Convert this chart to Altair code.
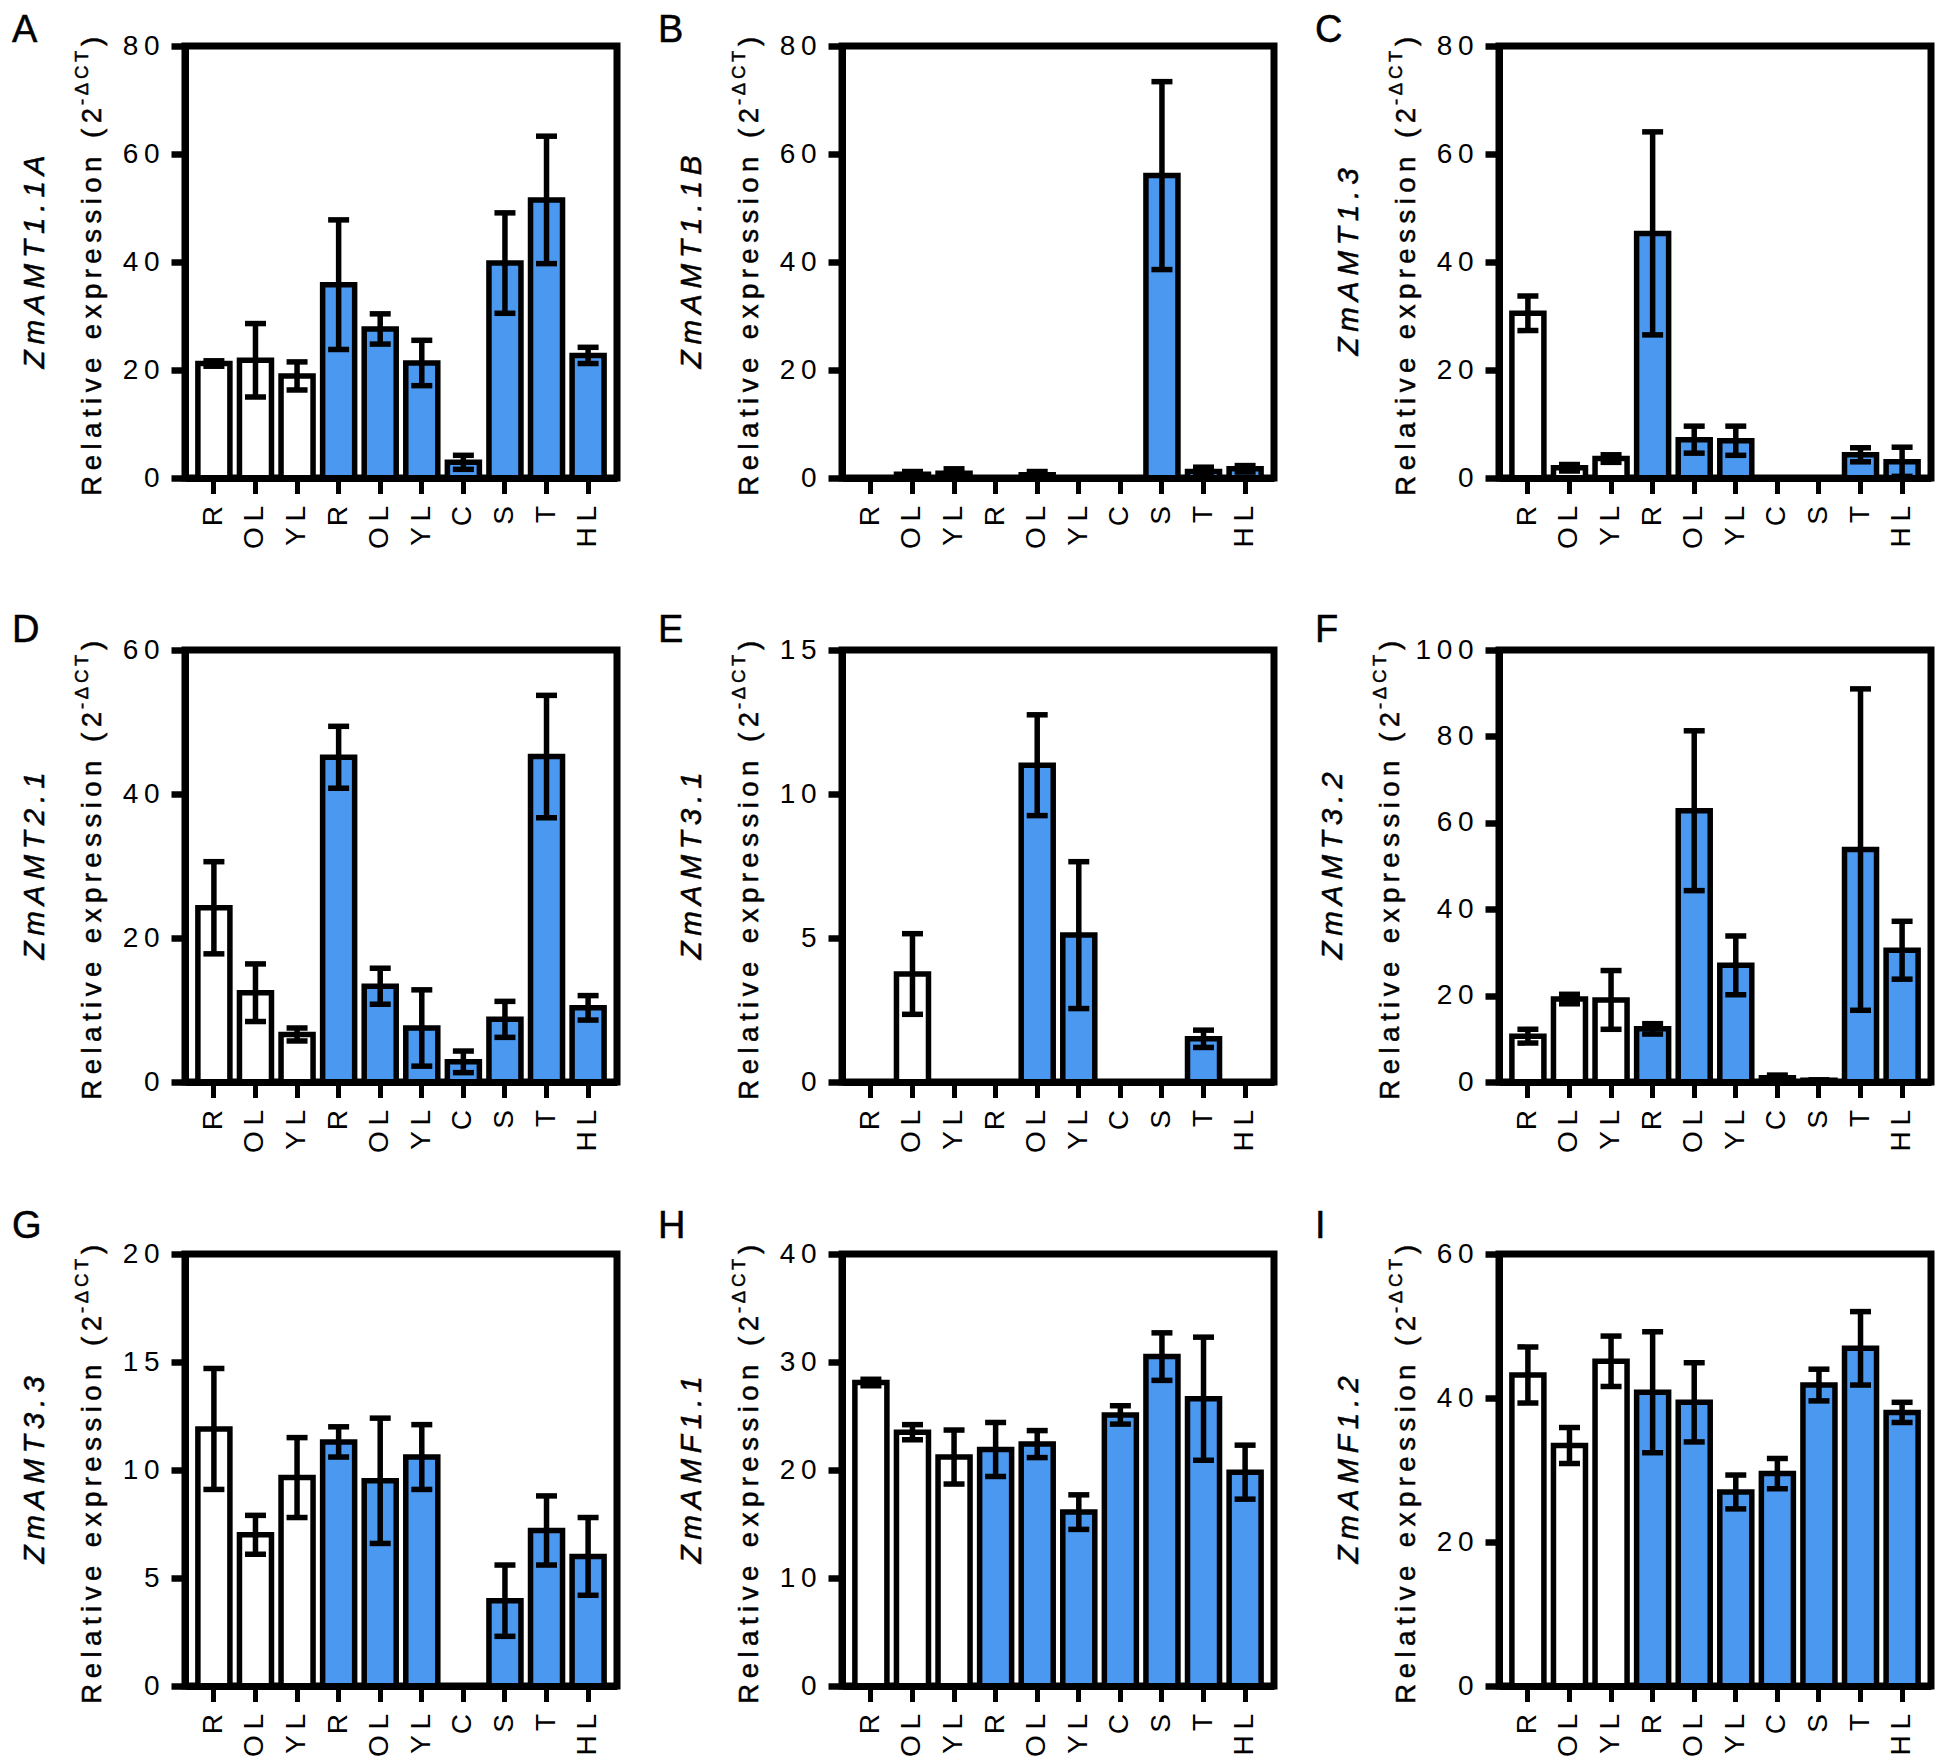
import altair as alt
import pandas as pd

FONT = "Liberation Sans"
TS = "\u2009"
BLUE = "#4b98f0"

tissues = ["R", "OL", "YL", "R", "OL", "YL", "C", "S", "T", "HL"]
groups = ["w", "w", "w", "b", "b", "b", "b", "b", "b", "b"]

letters = ["A", "B", "C", "D", "E", "F", "G", "H", "I"]
genes = ["ZmAMT1.1A", "ZmAMT1.1B", "ZmAMT1.3", "ZmAMT2.1", "ZmAMT3.1",
         "ZmAMT3.2", "ZmAMT3.3", "ZmAMF1.1", "ZmAMF1.2"]
y_max = [80, 80, 80, 60, 15, 100, 20, 40, 60]
y_step = [20, 20, 20, 20, 5, 20, 5, 10, 20]

mean_A = [21.2, 21.8, 18.9, 35.8, 27.6, 21.3, 2.9, 39.8, 51.5, 22.7]
err_A = [0.5, 6.8, 2.6, 12.0, 2.8, 4.2, 1.3, 9.3, 11.8, 1.5]
mean_B = [0, 0.7, 0.9, 0, 0.6, 0, 0, 56.0, 1.2, 1.7]
err_B = [0, 0.5, 0.8, 0, 0.6, 0, 0, 17.4, 0.8, 0.6]
mean_C = [30.5, 1.9, 3.6, 45.3, 7.1, 6.9, 0, 0, 4.3, 3.0]
err_C = [3.2, 0.6, 0.7, 18.8, 2.5, 2.7, 0, 0, 1.3, 2.7]
mean_D = [24.2, 12.4, 6.6, 45.1, 13.3, 7.5, 2.8, 8.7, 45.2, 10.3]
err_D = [6.4, 4.0, 0.9, 4.3, 2.5, 5.3, 1.5, 2.5, 8.5, 1.7]
mean_E = [0, 3.75, 0, 0, 11.0, 5.1, 0, 0, 1.5, 0]
err_E = [0, 1.4, 0, 0, 1.75, 2.55, 0, 0, 0.3, 0]
mean_F = [10.6, 19.2, 19.0, 12.3, 62.8, 27.0, 1.0, 0.4, 53.8, 30.5]
err_F = [1.6, 1.1, 6.8, 1.2, 18.5, 6.8, 0.6, 0.1, 37.2, 6.7]
mean_G = [11.9, 7.0, 9.65, 11.3, 9.5, 10.6, 0, 3.95, 7.2, 6.0]
err_G = [2.8, 0.9, 1.85, 0.7, 2.9, 1.5, 0, 1.65, 1.6, 1.8]
mean_H = [28.1, 23.5, 21.2, 21.9, 22.4, 16.1, 25.1, 30.5, 26.6, 19.8]
err_H = [0.3, 0.7, 2.5, 2.5, 1.25, 1.6, 0.85, 2.2, 5.7, 2.5]
mean_I = [43.2, 33.4, 45.1, 40.8, 39.4, 26.95, 29.5, 41.8, 46.9, 38.0]
err_I = [3.9, 2.5, 3.5, 8.4, 5.5, 2.35, 2.1, 2.2, 5.1, 1.4]

means = [mean_A, mean_B, mean_C, mean_D, mean_E, mean_F, mean_G, mean_H, mean_I]
errs = [err_A, err_B, err_C, err_D, err_E, err_F, err_G, err_H, err_I]

W = 432
H = 432


def sp(s):
    return TS.join(s)


x_label_expr = "[" + ",".join("'" + sp(t) + "'" for t in tissues) + "][datum.value]"
y_label_expr = "join(split(datum.label, ''), '" + TS + "')"


def txt(t, x, y, size, angle=0, align="left", style="normal"):
    return alt.Chart(pd.DataFrame({"t": [t]})).mark_text(
        font=FONT, fontSize=size, angle=angle, align=align,
        baseline="alphabetic", fontStyle=style, color="black",
        stroke="black", strokeWidth=0.5
    ).encode(text="t:N", x=alt.value(x), y=alt.value(y))


def panel(i, letter_x, letter_y, dx):
    df = pd.DataFrame({"k": list(range(10)), "mean": means[i],
                       "err": errs[i], "grp": groups})
    df["lo"] = df["mean"] - df["err"]
    df["hi"] = df["mean"] + df["err"]
    ticks = list(range(0, y_max[i] + 1, y_step[i]))
    xaxis = alt.Axis(title=None, labelAngle=270, labelExpr=x_label_expr,
                     labelFont=FONT, labelFontSize=28, labelPadding=12,
                     labelColor="black", tickSize=15.5, tickWidth=5,
                     tickColor="black", domain=True, domainColor="black",
                     domainWidth=7, labelOverlap=False, zindex=1)
    xenc = alt.X("k:O", scale=alt.Scale(paddingInner=0.23, paddingOuter=0.31),
                 axis=xaxis)
    yscale = alt.Scale(domain=[0, y_max[i]], nice=False)
    yaxis = alt.Axis(title=None, values=ticks, labelExpr=y_label_expr,
                     labelFont=FONT, labelFontSize=28, labelPadding=12,
                     labelColor="black", tickSize=14, tickWidth=6.5,
                     tickColor="black", domain=True, domainColor="black",
                     domainWidth=7, grid=False, labelOverlap=False, zindex=1)
    base = alt.Chart(df)
    bars = base.mark_bar(stroke="black", strokeWidth=5.5, strokeJoin="miter").encode(
        x=xenc,
        y=alt.Y("mean:Q", scale=yscale, axis=yaxis),
        fill=alt.Fill("grp:N", scale=alt.Scale(domain=["w", "b"], range=["white", BLUE]),
                      legend=None),
    )
    eb = base.transform_filter("datum.err > 0")
    rule = eb.mark_rule(color="black", strokeWidth=5.5).encode(
        x=xenc, y=alt.Y("lo:Q", scale=yscale, axis=yaxis), y2="hi:Q")
    cap_lo = eb.mark_tick(color="black", thickness=5.5, size=21, opacity=1).encode(
        x=xenc, y=alt.Y("lo:Q", scale=yscale, axis=yaxis))
    cap_hi = eb.mark_tick(color="black", thickness=5.5, size=21, opacity=1).encode(
        x=xenc, y=alt.Y("hi:Q", scale=yscale, axis=yaxis))
    letter = txt(letters[i], letter_x, letter_y, 38)
    gene = txt(sp(genes[i]), -141 + dx, H / 2, 29.5, angle=270, align="center", style="italic")
    main = txt(sp("Relative expression (2"), -84 + dx, 62, 27.5, angle=270, align="right")
    sup = txt(sp("-\u0394CT"), -97 + dx, 59, 18.5, angle=270, align="left")
    paren = txt(")", -84 + dx, 0, 27.5, angle=270, align="left")
    return alt.layer(bars, rule, cap_lo, cap_hi, letter, gene, main, sup, paren).properties(
        width=W, height=H)


letter_xs = [-173, -184, -184]
letter_ys = [-4, -8, -16]
title_dx = [0, 0, 0, 0, 0, -16, 0, 0, 0]
panels = [panel(i, letter_xs[i % 3], letter_ys[i // 3], title_dx[i]) for i in range(9)]

chart = alt.concat(
    *panels, columns=3, bounds="flush",
    spacing=alt.RowColnumber(row=172, column=225),
).resolve_scale(x="independent", y="independent").properties(padding=0)
chart = chart.configure_view(stroke="black", strokeWidth=7).configure_axis(labelFont=FONT)

chart.save("out.html", embed_options={"renderer": "svg", "actions": False})
